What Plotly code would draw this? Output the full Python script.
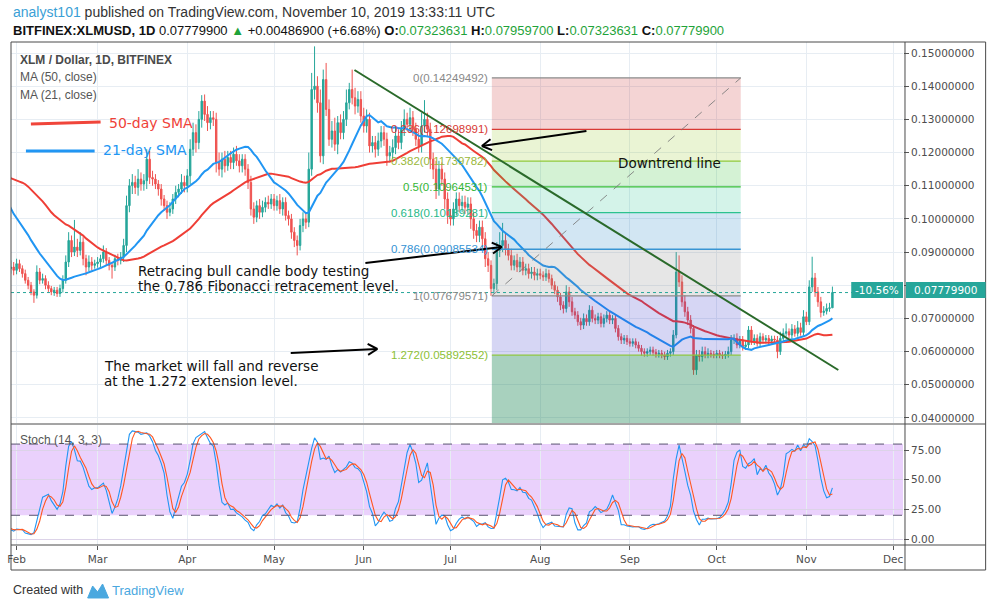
import math
import numpy as np
import pandas as pd
import plotly.graph_objects as go

# ---------------- data (prices in 1e-4 USD, wicks in 1e-4 USD) ----------------
START = "2018-12-11"

close_dec = [1050, 1070, 1010, 980, 1000, 1040, 1160, 1200, 1220, 1300,
             1240, 1280, 1340, 1420, 1260, 1240, 1120, 1200, 1150, 1160,
             1120]
up_dec = [40, 40, 40, 30, 30, 50, 50, 40, 40, 80,
          50, 50, 60, 80, 60, 50, 50, 50, 40, 40,
          40]
dn_dec = [30, 40, 40, 30, 30, 30, 40, 40, 40, 40,
          60, 40, 40, 40, 80, 50, 50, 40, 40, 40,
          40]

close_jan = [1180, 1250, 1180, 1200, 1210, 1280, 1240, 1230, 1230, 1130,
             1130, 1120, 1060, 1120, 1080, 1100, 1100, 1080, 1090, 1060,
             1050, 1050, 1030, 1000, 980, 960, 900, 860, 850, 855,
             845]
up_jan = [40, 60, 40, 40, 40, 50, 40, 40, 40, 30,
          30, 30, 40, 40, 30, 30, 30, 30, 30, 30,
          30, 30, 30, 30, 25, 25, 25, 25, 20, 20,
          15]
dn_jan = [30, 40, 40, 30, 30, 40, 40, 30, 40, 60,
          30, 30, 40, 30, 30, 30, 20, 30, 20, 30,
          20, 20, 25, 25, 25, 20, 30, 30, 20, 15,
          15]

close_feb = [865, 850, 835, 815, 800, 780, 770, 840, 815, 820,
             800, 790, 780, 785, 775, 790, 815, 870, 935, 900,
             915, 905, 930, 880, 855, 870, 860, 865]
up_feb = [15, 12, 10, 12, 10, 10, 8, 20, 12, 15,
          10, 12, 8, 10, 10, 12, 15, 20, 25, 15,
          82, 25, 30, 15, 12, 20, 15, 12]
dn_feb = [12, 10, 12, 10, 12, 10, 23, 10, 12, 10,
          12, 10, 10, 12, 10, 10, 12, 10, 15, 15,
          12, 20, 15, 20, 25, 12, 15, 10]

close_mar = [870, 880, 900, 875, 860, 855, 880, 875, 885, 920,
             1040, 1100, 1110, 1095, 1120, 1105, 1115, 1180, 1125, 1120,
             1105, 1090, 1060, 1040, 1020, 1030, 1060, 1080, 1090, 1110,
             1100]
up_mar = [15, 12, 20, 12, 10, 10, 12, 15, 15, 20,
          30, 20, 25, 20, 30, 20, 20, 30, 25, 20,
          15, 12, 15, 12, 15, 20, 15, 20, 15, 25,
          20]
dn_mar = [12, 15, 12, 15, 15, 35, 12, 15, 12, 15,
          20, 20, 25, 20, 25, 20, 20, 25, 20, 20,
          15, 20, 20, 15, 20, 12, 15, 15, 15, 15,
          20]

close_apr = [1130, 1210, 1260, 1230, 1300, 1355, 1315, 1290, 1305, 1300,
             1170, 1150, 1180, 1160, 1185, 1170, 1195, 1175, 1160, 1180,
             1150, 1110, 1030, 1005, 1040, 1020, 1035, 1050, 1045, 1060]
up_apr = [20, 30, 30, 25, 25, 18, 20, 25, 20, 20,
          20, 30, 20, 25, 20, 20, 20, 25, 20, 15,
          15, 15, 20, 20, 15, 20, 20, 15, 20, 15]
dn_apr = [20, 25, 20, 30, 20, 25, 20, 25, 20, 20,
          30, 20, 25, 20, 15, 20, 20, 15, 20, 20,
          20, 20, 20, 20, 15, 20, 15, 15, 15, 15]

close_may = [1040, 1055, 1030, 1050, 1010, 1000, 960, 935, 920, 980,
             1000, 990, 1150, 1390, 1400, 1350, 1190, 1420, 1330, 1240,
             1265, 1225, 1290, 1260, 1300, 1350, 1390, 1365, 1340, 1360,
             1310]
up_may = [15, 15, 20, 15, 15, 15, 15, 15, 15, 20,
          20, 20, 50, 50, 120, 30, 40, 30, 50, 30,
          30, 40, 20, 25, 25, 40, 20, 60, 30, 25,
          25]
dn_may = [15, 15, 15, 20, 15, 20, 20, 20, 30, 15,
          20, 20, 15, 20, 30, 30, 20, 25, 20, 20,
          25, 20, 30, 20, 20, 20, 20, 20, 25, 20,
          20]

close_jun = [1280, 1300, 1220, 1230, 1210, 1235, 1260, 1240, 1190, 1200,
             1215, 1250, 1230, 1270, 1300, 1285, 1305, 1270, 1240, 1220,
             1280, 1300, 1270, 1180, 1150, 1090, 1150, 1120, 1060, 1010]
up_jun = [25, 30, 20, 20, 20, 25, 20, 20, 20, 20,
          25, 25, 20, 25, 30, 20, 30, 20, 20, 20,
          40, 58, 20, 20, 20, 25, 25, 20, 20, 20]
dn_jun = [20, 20, 20, 20, 25, 20, 20, 20, 30, 20,
          20, 20, 20, 20, 20, 20, 20, 20, 20, 20,
          20, 20, 20, 30, 30, 30, 20, 20, 30, 25]

close_jul = [1000, 1030, 1060, 1040, 1050, 1035, 1045, 1000, 965, 950,
             975, 940, 880, 860, 790, 805, 905, 920, 935, 910,
             890, 860, 875, 855, 870, 845, 850, 835, 840, 830,
             835]
up_jul = [20, 20, 20, 20, 20, 20, 20, 20, 20, 20,
          20, 20, 20, 20, 15, 15, 25, 40, 53, 20,
          15, 20, 15, 20, 15, 15, 15, 15, 15, 15,
          15]
dn_jul = [20, 20, 20, 20, 20, 20, 20, 30, 25, 20,
          20, 25, 25, 20, 22, 15, 20, 20, 20, 20,
          15, 15, 15, 15, 15, 15, 15, 15, 15, 15,
          15]

close_aug = [830, 825, 835, 820, 800, 785, 765, 740, 730, 780,
             750, 720, 710, 690, 680, 700, 690, 725, 700, 695,
             705, 685, 700, 710, 695, 700, 670, 645, 635, 640,
             630]
up_aug = [15, 12, 15, 12, 12, 12, 12, 12, 12, 20,
          15, 15, 12, 12, 12, 15, 12, 15, 12, 12,
          12, 12, 12, 12, 12, 10, 10, 10, 10, 10,
          10]
dn_aug = [12, 12, 12, 12, 12, 12, 15, 15, 15, 12,
          15, 12, 12, 12, 15, 12, 12, 12, 12, 12,
          12, 12, 12, 12, 12, 12, 12, 12, 12, 12,
          10]

close_sep = [625, 630, 620, 610, 600, 595, 600, 605, 598, 592,
             595, 590, 585, 595, 600, 650, 840, 810, 750, 720,
             695, 670, 545, 590, 585, 600, 590, 595, 592, 590]
up_sep = [10, 10, 10, 10, 10, 10, 10, 10, 10, 10,
          10, 10, 10, 10, 10, 15, 60, 50, 20, 20,
          15, 15, 10, 15, 15, 15, 15, 15, 10, 10]
dn_sep = [10, 10, 10, 10, 12, 10, 10, 10, 10, 10,
          10, 10, 10, 10, 10, 10, 10, 15, 15, 15,
          15, 15, 15, 15, 15, 15, 10, 10, 10, 10]

close_oct = [595, 590, 588, 592, 600, 635, 640, 620, 635, 615,
             620, 665, 630, 640, 625, 645, 635, 640, 632, 638,
             635, 600, 640, 655, 660, 650, 668, 655, 672, 658,
             705]
up_oct = [10, 10, 10, 10, 15, 15, 12, 15, 12, 12,
          15, 12, 12, 12, 12, 12, 10, 10, 10, 10,
          10, 12, 20, 15, 25, 10, 15, 12, 20, 15,
          20]
dn_oct = [10, 10, 10, 10, 10, 10, 12, 10, 10, 12,
          10, 10, 10, 10, 10, 10, 10, 10, 10, 10,
          10, 20, 10, 10, 10, 10, 10, 10, 10, 10,
          10]

close_nov = [690, 795, 822, 780, 750, 718, 722, 730, 732, 778]
up_nov = [15, 20, 64, 15, 15, 15, 15, 15, 15, 18]
dn_nov = [10, 10, 15, 15, 15, 15, 10, 10, 10, 0]

month_ticks = ["2019-02-01", "2019-03-01", "2019-04-01", "2019-05-01", "2019-06-01",
               "2019-07-01", "2019-08-01", "2019-09-01", "2019-10-01", "2019-11-01",
               "2019-12-01"]
month_labels = ["Feb", "Mar", "Apr", "May", "Jun", "Jul", "Aug", "Sep", "Oct", "Nov", "Dec"]
price_ticks = [0.04, 0.05, 0.06, 0.07, 0.08, 0.09, 0.10, 0.11, 0.12, 0.13, 0.14, 0.15]
stoch_ticks = [0, 25, 50, 75]

fib_ratio_text = ["0", "0.236", "0.382", "0.5", "0.618", "0.786", "1", "1.272"]
fib_prices = [0.14249492, 0.12698991, 0.11739782, 0.10964531, 0.10189281,
              0.09085534, 0.07679571, 0.05892552]
fib_ext_1618 = 0.03619260

last_price = 0.07779900
pct_label = "-10.56%"

# ---------------- build OHLC ----------------
closes = [close_dec, close_jan, close_feb, close_mar, close_apr, close_may,
          close_jun, close_jul, close_aug, close_sep, close_oct, close_nov]
ups = [up_dec, up_jan, up_feb, up_mar, up_apr, up_may, up_jun, up_jul,
       up_aug, up_sep, up_oct, up_nov]
dns = [dn_dec, dn_jan, dn_feb, dn_mar, dn_apr, dn_may, dn_jun, dn_jul,
       dn_aug, dn_sep, dn_oct, dn_nov]

close = np.array([v for p in closes for v in p], float) / 1e4
up = np.array([v for p in ups for v in p], float) / 1e4
dn = np.array([v for p in dns for v in p], float) / 1e4
assert len(close) == len(up) == len(dn)
n = len(close)
dates = pd.date_range(START, periods=n, freq="D")
opn = np.concatenate([[close[0]], close[:-1]])
high = np.maximum(opn, close) + up
low = np.minimum(opn, close) - dn

s_close = pd.Series(close)
sma50 = s_close.rolling(50).mean()
sma21 = s_close.rolling(21).mean()
hh = pd.Series(high).rolling(14).max()
ll = pd.Series(low).rolling(14).min()
raw_k = 100 * (s_close - ll) / (hh - ll)
stoch_k = raw_k.rolling(3).mean()
stoch_d = stoch_k.rolling(3).mean()

# ---------------- geometry helpers (page pixels -> paper / data) ----------------
W, H = 987, 607
L_PX, R_PX, T_PX, B_PX = 7, 903, 42, 570
PW, PH = R_PX - L_PX, B_PX - T_PX


def X(px):
    return (px - L_PX) / PW


def Y(py):
    return (B_PX - py) / PH


T0 = pd.Timestamp("2019-02-01")
PX0, PXD = 12.6, 2.906


def xdate(px):
    return T0 + pd.Timedelta(days=(px - PX0) / PXD)


def yprice(py):
    return 0.15 - (py - 53) / 3318.0


GRID = "#e7edf3"
AX_TXT = "#4d4d4d"
UP_C, DN_C = "#26a69a", "#ef5350"
RED_MA, BLUE_MA = "#ef3e36", "#2196f3"

fig = go.Figure()
fig.add_trace(go.Candlestick(
    x=dates, open=opn, high=high, low=low, close=close,
    increasing=dict(line=dict(color=UP_C, width=1), fillcolor=UP_C),
    decreasing=dict(line=dict(color=DN_C, width=1), fillcolor=DN_C),
    whiskerwidth=0, showlegend=False, hoverinfo="skip", xaxis="x", yaxis="y"))
fig.add_trace(go.Scatter(x=dates, y=sma50, mode="lines", line=dict(color=RED_MA, width=2),
                         showlegend=False, hoverinfo="skip", xaxis="x", yaxis="y"))
fig.add_trace(go.Scatter(x=dates, y=sma21, mode="lines", line=dict(color=BLUE_MA, width=2),
                         showlegend=False, hoverinfo="skip", xaxis="x", yaxis="y"))
fig.add_trace(go.Scatter(x=dates, y=stoch_k, mode="lines", line=dict(color="#2196f3", width=1.1),
                         showlegend=False, hoverinfo="skip", xaxis="x2", yaxis="y2"))
fig.add_trace(go.Scatter(x=dates, y=stoch_d, mode="lines", line=dict(color="#ff5722", width=1.1),
                         showlegend=False, hoverinfo="skip", xaxis="x2", yaxis="y2"))

main_dom = [Y(423), 1]
stoch_dom = [Y(545), Y(425)]
xr = [xdate(L_PX), xdate(R_PX)]

shapes = []
annots = []

# stoch band and dashed bounds
shapes.append(dict(type="rect", xref="x2 domain", yref="y2", x0=0, x1=1, y0=20, y1=80,
                   fillcolor="rgba(150,25,240,0.20)", line=dict(width=0), layer="below"))
for lv in (20, 80):
    shapes.append(dict(type="line", xref="x2 domain", yref="y2", x0=0, x1=1, y0=lv, y1=lv,
                       line=dict(color="#5a5470", width=1, dash="dash"), layer="above"))

# fibonacci zones
fib_fill = ["rgba(200,40,40,0.20)", "rgba(150,200,40,0.20)", "rgba(40,190,40,0.20)",
            "rgba(40,195,145,0.20)", "rgba(30,130,195,0.20)", "rgba(128,128,128,0.20)",
            "rgba(50,50,200,0.20)", "rgba(20,130,80,0.37)"]
fib_line = ["#8a8a8a", "#d83a34", "#8fc93a", "#3cbf3c", "#2cc28f", "#3895d3", "#8a8a8a", "#8cc63f"]
fib_txt = ["#888888", "#d83a34", "#9ab83b", "#34b534", "#26b888", "#3593d4", "#888888", "#8dbf35"]
fx0, fx1 = xdate(490), xdate(740)
bounds = fib_prices + [fib_ext_1618]
for i in range(len(fib_prices)):
    shapes.append(dict(type="rect", xref="x", yref="y", x0=fx0, x1=fx1,
                       y0=bounds[i + 1], y1=bounds[i], fillcolor=fib_fill[i],
                       line=dict(width=0), layer="above"))
for i, p in enumerate(fib_prices):
    shapes.append(dict(type="line", xref="x", yref="y", x0=fx0, x1=fx1, y0=p, y1=p,
                       line=dict(color=fib_line[i], width=1.3), layer="above"))
    annots.append(dict(xref="x", yref="y", x=fx0, y=p, xanchor="right", yanchor="middle",
                       xshift=-2, showarrow=False,
                       text=f"{fib_ratio_text[i]}({p:.8f})",
                       font=dict(family="Liberation Sans", size=11.5, color=fib_txt[i])))
# fib diagonal
shapes.append(dict(type="line", xref="x", yref="y", x0=fx0, y0=fib_prices[6], x1=fx1, y1=fib_prices[0],
                   line=dict(color="rgba(120,120,120,0.85)", width=1, dash="dash"), layer="above"))

# downtrend line
shapes.append(dict(type="line", xref="x", yref="y", x0=xdate(352), y0=yprice(70),
                   x1=xdate(838), y1=yprice(370),
                   line=dict(color="#2a6a2a", width=2), layer="above"))

# last price dotted line
shapes.append(dict(type="line", xref="x domain", yref="y", x0=0, x1=1, y0=last_price, y1=last_price,
                   line=dict(color="#26a69a", width=1, dash="dot"), layer="above"))

# frame lines
FR = "#4a4a4a"
xr_end = X(986)
shapes += [
    dict(type="line", xref="paper", yref="paper", x0=0, x1=xr_end, y0=1, y1=1, line=dict(color=FR, width=1)),
    dict(type="line", xref="paper", yref="paper", x0=0, x1=xr_end, y0=0, y1=0, line=dict(color=FR, width=1)),
    dict(type="line", xref="paper", yref="paper", x0=0, x1=0, y0=0, y1=1, line=dict(color=FR, width=1)),
    dict(type="line", xref="paper", yref="paper", x0=xr_end, x1=xr_end, y0=0, y1=1, line=dict(color=FR, width=1)),
    dict(type="line", xref="paper", yref="paper", x0=X(905), x1=X(905), y0=0, y1=1, line=dict(color=FR, width=1)),
    dict(type="line", xref="paper", yref="paper", x0=0, x1=xr_end, y0=Y(424), y1=Y(424), line=dict(color=FR, width=1)),
    dict(type="line", xref="paper", yref="paper", x0=0, x1=xr_end, y0=Y(545), y1=Y(545), line=dict(color=FR, width=1)),
]

# price labels on the axis
shapes.append(dict(type="rect", xref="paper", yref="paper", x0=X(906), x1=X(986), y0=Y(298), y1=Y(282),
                   fillcolor="#26a69a", line=dict(width=0), layer="above"))
shapes.append(dict(type="rect", xref="paper", yref="paper", x0=X(851), x1=X(903), y0=Y(298), y1=Y(282),
                   fillcolor="#26a69a", line=dict(width=0), layer="above"))
annots.append(dict(xref="paper", yref="paper", x=X(912), y=Y(290), xanchor="left", yanchor="middle",
                   showarrow=False, text=f"{last_price:.8f}",
                   font=dict(family="DejaVu Sans", size=10.5, color="white")))
annots.append(dict(xref="paper", yref="paper", x=X(877), y=Y(290), xanchor="center", yanchor="middle",
                   showarrow=False, text=pct_label,
                   font=dict(family="DejaVu Sans", size=10.5, color="white")))

# legend-like lines
shapes.append(dict(type="line", xref="paper", yref="paper", x0=X(27), x1=X(97), y0=Y(124), y1=Y(122),
                   line=dict(color="#f0453a", width=3)))
shapes.append(dict(type="line", xref="paper", yref="paper", x0=X(22), x1=X(91), y0=Y(151), y1=Y(151),
                   line=dict(color="#2196f3", width=3)))


def arrow(tail, head, arm=11, ang=30):
    (tx, ty), (hx, hy) = tail, head
    out = [dict(type="line", xref="paper", yref="paper", x0=X(tx), y0=Y(ty), x1=X(hx), y1=Y(hy),
                line=dict(color="black", width=2))]
    vx, vy = tx - hx, ty - hy
    ln = math.hypot(vx, vy)
    ux, uy = vx / ln, vy / ln
    for s in (1, -1):
        a = math.radians(ang * s)
        rx = ux * math.cos(a) - uy * math.sin(a)
        ry = ux * math.sin(a) + uy * math.cos(a)
        out.append(dict(type="line", xref="paper", yref="paper", x0=X(hx), y0=Y(hy),
                        x1=X(hx + arm * rx), y1=Y(hy + arm * ry),
                        line=dict(color="black", width=2)))
    return out


shapes += arrow((585, 131), (480, 146))
shapes += arrow((363, 263), (500, 247))
shapes += arrow((288, 353), (375, 349))

# TradingView logo (simple mountain glyph)
lp = [(84, 598), (89, 586), (94, 592), (99, 584), (105, 598)]
path = "M " + " L ".join(f"{X(a):.5f},{Y(b):.5f}" for a, b in lp) + " Z"
shapes.append(dict(type="path", xref="paper", yref="paper", path=path,
                   fillcolor="#4aa8df", line=dict(color="#4aa8df", width=1)))


def txt(px, py, text, size, color, family="DejaVu Sans", anchor="left", weight=None):
    f = dict(family=family, size=size, color=color)
    if weight:
        f["weight"] = weight
    annots.append(dict(xref="paper", yref="paper", x=X(px), y=Y(py), xanchor=anchor,
                       yanchor="middle", showarrow=False, text=text, font=f))


G = "#1fa33a"
SANS = "Liberation Sans, Arial"
txt(7, 12, "<span style='color:#3a9fd6'>analyst101</span> published on TradingView.com, "
           "November 10, 2019 13:33:11 UTC", 14, "#333333", SANS)
txt(7, 30, "<b>BITFINEX:XLMUSD, 1D</b> 0.07779900 <span style='color:%s'>▲</span> +0.00486900 (+6.68%%) "
           "<b>O:</b><span style='color:%s'>0.07323631</span> <b>H:</b><span style='color:%s'>0.07959700</span> "
           "<b>L:</b><span style='color:%s'>0.07323631</span> <b>C:</b><span style='color:%s'>0.07779900</span>"
    % (G, G, G, G, G), 13, "#111111", SANS)

txt(14, 60, "<b>XLM / Dollar, 1D, BITFINEX</b>", 12, "#4a4a4a", "Liberation Sans")
txt(14, 77, "MA (50, close)", 12, "#555555", "Liberation Sans")
txt(14, 95, "MA (21, close)", 12, "#555555", "Liberation Sans")
txt(103, 123, "50-day SMA", 14, "#ef4238")
txt(97, 150, "21-day SMA", 14, "#2196f3")
txt(14, 440, "Stoch (14, 3, 3)", 12, "#555555", "Liberation Sans")

txt(615, 163, "Downtrend line", 13.5, "#111111")
txt(133, 271, "Retracing bull candle body testing", 13.5, "#111111")
txt(133, 286, "the 0.786 Fibonacci retracement level.", 13.5, "#111111")
txt(98, 366, "The market will fall and reverse", 13.5, "#111111")
txt(98, 381, "at the 1.272 extension level.", 13.5, "#111111")

txt(7, 590, "Created with", 12.5, "#333333", SANS)
txt(106, 590, "TradingView", 13, "#4aa8df", SANS)

price_text = ["" if abs(v - 0.08) < 1e-9 else f"{v:.8f}" for v in price_ticks]

fig.update_layout(
    width=W, height=H, margin=dict(l=L_PX, r=W - R_PX, t=T_PX, b=H - B_PX),
    paper_bgcolor="white", plot_bgcolor="white", showlegend=False,
    xaxis=dict(domain=[0, 1], anchor="y", type="date", range=xr, showgrid=True, gridcolor=GRID,
               tickvals=month_ticks, showticklabels=False, ticks="", zeroline=False,
               rangeslider=dict(visible=False), showline=False),
    xaxis2=dict(domain=[0, 1], anchor="y2", type="date", matches="x", range=xr, showgrid=True,
                gridcolor=GRID, tickvals=month_ticks, ticktext=month_labels, ticks="outside",
                ticklen=4, tickcolor="#555", tickfont=dict(family="DejaVu Sans", size=10.5, color=AX_TXT),
                zeroline=False, showline=False),
    yaxis=dict(domain=main_dom, anchor="x", side="right", range=[yprice(423), yprice(42)],
               tickvals=price_ticks, ticktext=price_text, ticks="outside", ticklen=5, tickcolor="#555",
               tickfont=dict(family="DejaVu Sans", size=10.5, color=AX_TXT), showgrid=True,
               gridcolor=GRID, zeroline=False),
    yaxis2=dict(domain=stoch_dom, anchor="x2", side="right",
                range=[-6 / 1.1867, 75 + 25 / 1.1867], tickvals=stoch_ticks,
                ticktext=[f"{v:.2f}" for v in stoch_ticks], ticks="outside", ticklen=5, tickcolor="#555",
                tickfont=dict(family="DejaVu Sans", size=10.5, color=AX_TXT), showgrid=True,
                gridcolor="#dcd3e8", zeroline=False),
    shapes=shapes, annotations=annots,
)

fig.write_html("out.html", config={"displayModeBar": False},
               post_script="document.body.style.margin='0';document.body.style.padding='0';")
